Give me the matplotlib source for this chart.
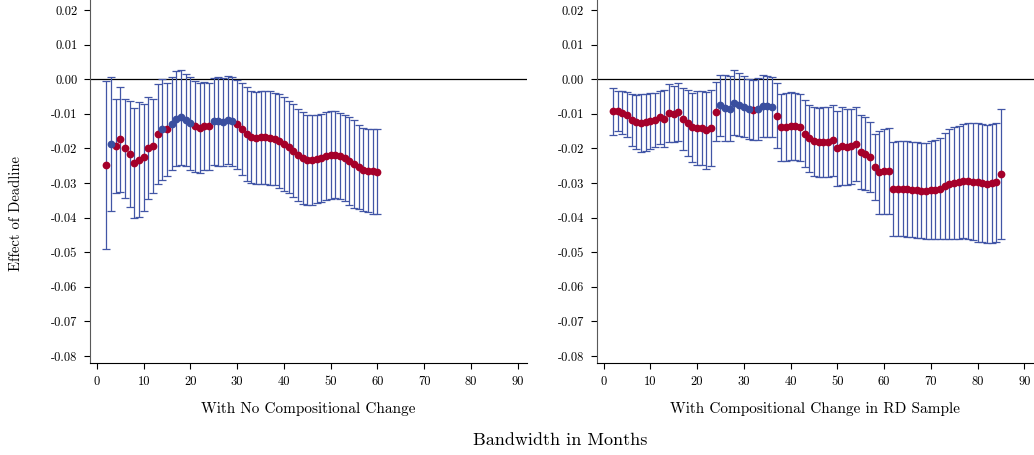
import numpy as np
import matplotlib
matplotlib.use('Agg')
import matplotlib.pyplot as plt

plt.rcParams['font.family'] = ['cmr10', 'DejaVu Serif']
plt.rcParams['axes.formatter.use_mathtext'] = True

# bandwidths (months)
months_left = np.arange(2, 61)
months_right = np.arange(2, 86)

# left panel: no compositional change
est_left = [
    -0.0248, -0.0187, -0.0193, -0.0174, -0.0200, -0.0216, -0.0242, -0.0233, -0.0226, -0.0198,
    -0.0193, -0.0159, -0.0144, -0.0145, -0.0128, -0.0114, -0.0110, -0.0118, -0.0127, -0.0136,
    -0.0141, -0.0135, -0.0136, -0.0122, -0.0122, -0.0124, -0.0118, -0.0122, -0.0130, -0.0144,
    -0.0158, -0.0168, -0.0170, -0.0168, -0.0168, -0.0170, -0.0173, -0.0179, -0.0187, -0.0197,
    -0.0206, -0.0218, -0.0227, -0.0233, -0.0233, -0.0230, -0.0227, -0.0222, -0.0218, -0.0218,
    -0.0222, -0.0228, -0.0235, -0.0245, -0.0254, -0.0261, -0.0264, -0.0266, -0.0267,
]
ci_left = [
    0.0242, 0.0193, 0.0135, 0.0153, 0.0142, 0.0154, 0.0160, 0.0166, 0.0154, 0.0147,
    0.0135, 0.0145, 0.0146, 0.0135, 0.0135, 0.0138, 0.0137, 0.0134, 0.0134, 0.0132,
    0.0131, 0.0128, 0.0126, 0.0127, 0.0129, 0.0128, 0.0128, 0.0129, 0.0129, 0.0132,
    0.0135, 0.0133, 0.0134, 0.0134, 0.0135, 0.0135, 0.0134, 0.0135, 0.0135, 0.0133,
    0.0134, 0.0133, 0.0133, 0.0129, 0.0129, 0.0128, 0.0127, 0.0127, 0.0127, 0.0125,
    0.0125, 0.0124, 0.0127, 0.0126, 0.0121, 0.0121, 0.0121, 0.0122, 0.0123,
]

# right panel: with compositional change in RD sample
est_right = [
    -0.0092, -0.0092, -0.0097, -0.0102, -0.0118, -0.0124, -0.0127, -0.0125, -0.0121, -0.0118,
    -0.0110, -0.0114, -0.0097, -0.0100, -0.0095, -0.0114, -0.0126, -0.0139, -0.0141, -0.0141,
    -0.0148, -0.0141, -0.0094, -0.0075, -0.0083, -0.0085, -0.0068, -0.0073, -0.0080, -0.0086,
    -0.0089, -0.0086, -0.0078, -0.0078, -0.0081, -0.0105, -0.0139, -0.0138, -0.0136, -0.0136,
    -0.0139, -0.0158, -0.0171, -0.0179, -0.0182, -0.0182, -0.0181, -0.0177, -0.0200, -0.0194,
    -0.0196, -0.0194, -0.0187, -0.0211, -0.0215, -0.0225, -0.0253, -0.0269, -0.0266, -0.0264,
    -0.0317, -0.0316, -0.0316, -0.0317, -0.0319, -0.0320, -0.0322, -0.0323, -0.0321, -0.0319,
    -0.0316, -0.0309, -0.0304, -0.0300, -0.0298, -0.0295, -0.0294, -0.0296, -0.0298, -0.0300,
    -0.0302, -0.0301, -0.0298, -0.0274,
]
ci_right = [
    0.0068, 0.0058, 0.0062, 0.0064, 0.0074, 0.0078, 0.0083, 0.0083, 0.0080, 0.0077,
    0.0076, 0.0082, 0.0083, 0.0081, 0.0084, 0.0090, 0.0096, 0.0100, 0.0106, 0.0108,
    0.0110, 0.0111, 0.0085, 0.0088, 0.0095, 0.0094, 0.0094, 0.0092, 0.0088, 0.0088,
    0.0088, 0.0089, 0.0089, 0.0088, 0.0087, 0.0095, 0.0096, 0.0098, 0.0098, 0.0097,
    0.0097, 0.0097, 0.0097, 0.0100, 0.0100, 0.0101, 0.0101, 0.0103, 0.0109, 0.0113,
    0.0111, 0.0109, 0.0107, 0.0107, 0.0106, 0.0101, 0.0096, 0.0120, 0.0123, 0.0124,
    0.0135, 0.0137, 0.0138, 0.0138, 0.0138, 0.0138, 0.0138, 0.0139, 0.0142, 0.0143,
    0.0146, 0.0153, 0.0159, 0.0161, 0.0163, 0.0165, 0.0167, 0.0169, 0.0171, 0.0171,
    0.0171, 0.0171, 0.0171, 0.0188,
]

titles = ['With No Compositional Change', 'With Compositional Change in RD Sample']
yticks = [0.02, 0.01, 0.0, -0.01, -0.02, -0.03, -0.04, -0.05, -0.06, -0.07, -0.08]
xticks = [0, 10, 20, 30, 40, 50, 60, 70, 80, 90]

RED = '#a5002a'
BLUE = '#3a4f9f'
BAR = '#4256a6'


def draw_panel(ax, x, est, ci, title):
    x = np.asarray(x)
    est = np.asarray(est)
    ci = np.asarray(ci)
    ax.axhline(0, color='black', lw=0.9, zorder=1)
    ax.errorbar(x, est, yerr=ci, fmt='none', ecolor=BAR, elinewidth=0.9,
                capsize=3, capthick=0.9, zorder=2)
    sig = est + ci < 0
    ax.plot(x[sig], est[sig], 'o', color=RED, ms=5.6, mew=0, zorder=3)
    ax.plot(x[~sig], est[~sig], 'o', color=BLUE, ms=5.6, mew=0, zorder=4)
    ax.set_xlim(-1.5, 92)
    ax.set_ylim(-0.0820, 0.0229)
    ax.set_xticks(xticks)
    ax.set_xticklabels([str(t) for t in xticks])
    ax.set_yticks(yticks)
    ax.set_yticklabels(['%.2f' % t if t != 0 else '0.00' for t in yticks])
    for s in ['top', 'right']:
        ax.spines[s].set_visible(False)
    ax.spines['left'].set_color('0.35')
    ax.spines['bottom'].set_color('black')
    ax.tick_params(direction='out', length=4, width=0.8, labelsize=9, pad=5)
    ax.set_xlabel(title, fontsize=11, labelpad=10)


fig = plt.figure(figsize=(10.34, 4.55), dpi=100)
ax1 = fig.add_axes([0.087, 0.2022, 0.4226, 0.7978])
ax2 = fig.add_axes([0.577, 0.2022, 0.4226, 0.7978])

draw_panel(ax1, months_left, est_left, ci_left, titles[0])
draw_panel(ax2, months_right, est_right, ci_right, titles[1])

fig.text(0.542, 0.033, 'Bandwidth in Months', ha='center', va='center', fontsize=13)
fig.text(0.016, 0.53, 'Effect of Deadline', ha='center', va='center',
         rotation=90, fontsize=10.5)

fig.savefig('out.png', dpi=100)
